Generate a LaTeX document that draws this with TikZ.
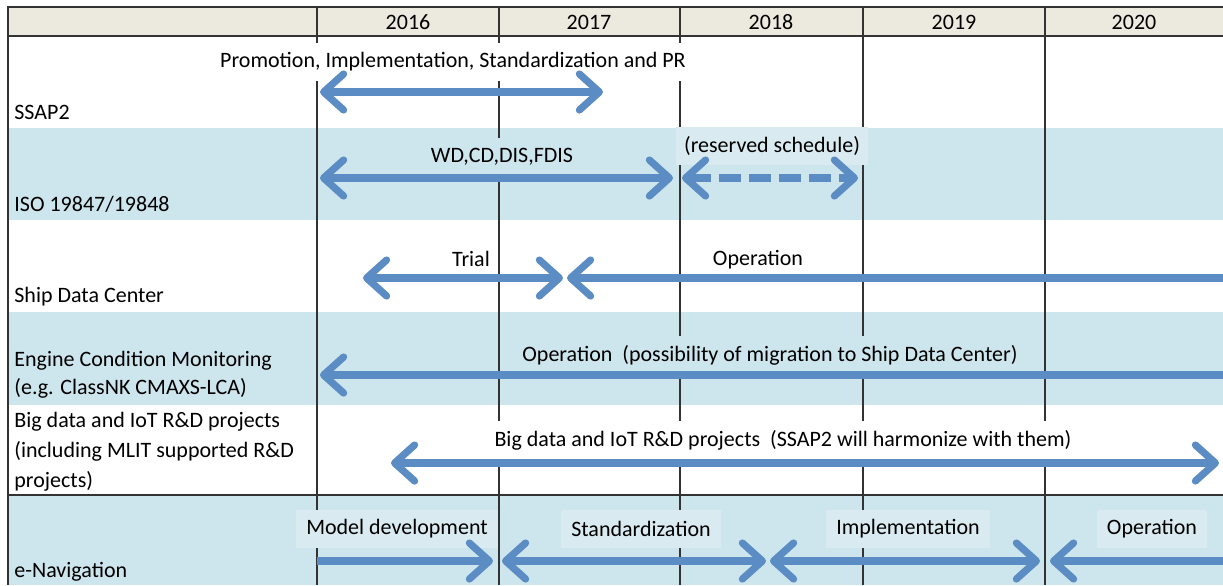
\documentclass[tikz,border=0pt]{standalone}
\usepackage{fontspec}
\setmainfont{Carlito}
\usetikzlibrary{arrows.meta}
\definecolor{bandblue}{HTML}{CDE5EC}
\definecolor{paleblue}{HTML}{D9EBF0}
\definecolor{headbeige}{HTML}{ECE9DF}
\definecolor{arrowblue}{HTML}{5B8CC4}
\definecolor{linegray}{HTML}{333333}

\begin{document}
\begin{tikzpicture}[
            x=0.5pt, y=-0.5pt,
            font=\fontsize{11}{13}\selectfont,
            >={Straight Barb[length=10pt, width=18pt, round]},
            bar/.style={draw=arrowblue, line width=3.6pt},
            yearline/.style={draw=linegray, line width=0.75pt},
            tag/.style={fill=#1, inner xsep=2pt, inner ysep=0pt, minimum height=19pt},
            tag/.default=white,
            rowname/.style={anchor=mid west, inner sep=0pt},
        ]
            \useasboundingbox (0, 0) rectangle (1223, 585);
            \fill[headbeige] (8, 7) rectangle (1223, 36);
            \fill[bandblue] (8, 128) rectangle (1223, 220);
            \fill[bandblue] (8, 312) rectangle (1223, 405);
            \fill[bandblue] (8, 495) rectangle (1223, 585);
            \draw[yearline] (1223, 7) -- (8, 7) -- (8, 585);
            \draw[yearline] (8, 36) -- (1223, 36);
            \draw[yearline] (8, 495) -- (1223, 495);
            \draw[yearline] (317, 7) -- (317, 585);
            \draw[yearline] (499, 7) -- (499, 585);
            \draw[yearline] (680, 7) -- (680, 585);
            \draw[yearline] (863, 7) -- (863, 585);
            \draw[yearline] (1045, 7) -- (1045, 585);
            \node (y2016) at (408, 22) {2016};
            \node (y2017) at (589, 22) {2017};
            \node (y2018) at (771, 22) {2018};
            \node (y2019) at (954, 22) {2019};
            \node (y2020) at (1134, 22) {2020};
            \node[rowname] (ssap) at (14, 115) {SSAP2};
            \node[rowname] (iso) at (14, 207) {ISO 19847/19848};
            \node[rowname] (ship) at (14, 298) {Ship Data Center};
            \node[rowname] (engine) at (14, 362) {Engine Condition Monitoring};
            \node[rowname] (enginenk) at (14, 390) {(e.g. ClassNK CMAXS-LCA)};
            \node[rowname] (bigdata) at (14, 423) {Big data and IoT R\&D projects};
            \node[rowname] (bigdatamlit) at (14, 453) {(including MLIT supported R\&D};
            \node[rowname] (bigdataproj) at (14, 483) {projects)};
            \node[rowname] (enav) at (14, 573) {e-Navigation};
            \node[tag] (promo) at (453, 62) {Promotion, Implementation, Standardization and PR};
            \node[tag=bandblue] (wd) at (502, 157) {WD,CD,DIS,FDIS};
            \node[tag=paleblue, inner xsep=4pt] (reserved) at (772, 146) {(reserved schedule)};
            \node[tag] (trial) at (471, 259) {Trial};
            \node[tag] (shipop) at (758, 260) {Operation};
            \node[tag=bandblue] (engop) at (770, 355) {Operation~~(possibility of migration to Ship Data Center)};
            \node[tag] (bigop) at (783, 440) {Big data and IoT R\&D projects~~(SSAP2 will harmonize with them)};
            \node[tag=paleblue, inner xsep=5pt] (modeldev) at (397, 529) {Model development};
            \node[tag=paleblue, inner xsep=5pt] (std) at (641, 529) {Standardization};
            \node[tag=paleblue, inner xsep=5pt] (impl) at (908, 529) {Implementation};
            \node[tag=paleblue, inner xsep=5pt] (navop) at (1152, 529) {Operation};
            \coordinate (ssapl) at (320, 92);
            \coordinate (ssapr) at (603, 92);
            \coordinate (isol) at (320, 178);
            \coordinate (isor) at (673, 178);
            \coordinate (resl) at (682, 178);
            \coordinate (resr) at (858, 178);
            \coordinate (triall) at (363, 278);
            \coordinate (trialr) at (563, 278);
            \coordinate (shipl) at (567, 278);
            \coordinate (shipr) at (1223, 278);
            \coordinate (engl) at (320, 375);
            \coordinate (engr) at (1223, 375);
            \coordinate (bigl) at (391, 463);
            \coordinate (bigr) at (1219, 463);
            \coordinate (nava) at (317, 561);
            \coordinate (navb) at (493, 561);
            \coordinate (stdl) at (502, 561);
            \coordinate (stdr) at (766, 561);
            \coordinate (impll) at (770, 561);
            \coordinate (implr) at (1040, 561);
            \coordinate (opl) at (1050, 561);
            \coordinate (opr) at (1223, 561);
            \draw[bar, <->] (ssapl) -- (ssapr);
            \draw[bar, <->] (isol) -- (isor);
            \draw[bar, <->, dash pattern=on 11pt off 4pt] (resl) -- (resr);
            \draw[bar, <->] (triall) -- (trialr);
            \draw[bar, <-] (shipl) -- (shipr);
            \draw[bar, <-] (engl) -- (engr);
            \draw[bar, <->] (bigl) -- (bigr);
            \draw[bar, ->] (nava) -- (navb);
            \draw[bar, <->] (stdl) -- (stdr);
            \draw[bar, <->] (impll) -- (implr);
            \draw[bar, <-] (opl) -- (opr);
        \end{tikzpicture}
\end{document}
